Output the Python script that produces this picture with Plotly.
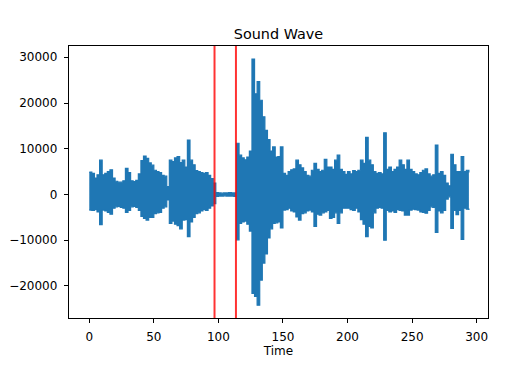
import plotly.graph_objects as go

# Sample times (s) and peak envelope of the waveform
time = list(range(0, 295, 2))
upper = [4900, 4600, 3600, 4300, 7500, 4300, 4600, 5000, 5400, 3600,
         2900, 2700, 2700, 3000, 5700, 4800, 3000, 2800, 3100, 4500,
         7400, 8400, 7900, 6900, 6400, 5300, 5000, 4800, 4200, 4000,
         1700, 7500, 7200, 8000, 8300, 7000, 7500, 6000, 11900, 7500,
         6500, 5200, 5000, 4800, 4600, 4800, 4200, 3500, 2500, 400,
         350, 300, 350, 350, 400, 350, 350, 11200, 8600, 8000,
         7600, 8200, 9500, 29600, 22000, 24700, 20600, 17000, 14000, 12000,
         9500, 10400, 8200, 8300, 10400, 4600, 4200, 5000, 5400, 5600,
         7500, 6500, 5800, 5000, 4200, 4000, 5300, 6800, 5500, 5000,
         5300, 7700, 6000, 6000, 5500, 7500, 8600, 5500, 5000, 4400,
         5000, 4500, 5200, 5000, 5300, 7500, 6800, 12500, 7500, 6500,
         5000, 4600, 4800, 4500, 13500, 5500, 6000, 5000, 5500, 6000,
         7500, 6500, 5500, 7500, 5500, 5000, 4500, 4300, 4800, 5300,
         5600, 4500, 4000, 4300, 10800, 4600, 5000, 4200, 2500, 1900,
         8800, 6500, 5000, 5000, 8300, 5000, 5300, 4800]
lower = [-3400, -3500, -3300, -3800, -6600, -3400, -3600, -3900, -4300, -3000,
         -2700, -2600, -2800, -3000, -3900, -3500, -2700, -2600, -2800, -3500,
         -4800, -5200, -5600, -5000, -5000, -4200, -4000, -3900, -3000, -2700,
         -1200, -6300, -5800, -6500, -6800, -7500, -5600, -5500, -9200, -6000,
         -5000, -4200, -4000, -3600, -3300, -3500, -3000, -2500, -2000, -400,
         -350, -350, -300, -350, -350, -350, -400, -9900, -6300, -6000,
         -5800, -6500, -8000, -21600, -22300, -24200, -18700, -15000, -13000, -9500,
         -7500, -6300, -6200, -6000, -7300, -3400, -3300, -3000, -3600, -3800,
         -4900, -5600, -4200, -4000, -3600, -3400, -3800, -7000, -4300, -4500,
         -4000, -3800, -3500, -5200, -5000, -4000, -6300, -4000, -3000, -3000,
         -3000, -3300, -3500, -3000, -3800, -5500, -6500, -9200, -7000, -7300,
         -4000, -3000, -2800, -3000, -10000, -3500, -3800, -3600, -3900, -3300,
         -3500, -3600, -4500, -4500, -3400, -3200, -3300, -3400, -3800, -3900,
         -4100, -3500, -2700, -2800, -8300, -3600, -4000, -3500, -1000, -500,
         -7400, -3500, -4400, -3500, -9800, -3000, -3200, -3400]
marker_times = [97.0, 113.6]

blue = "#1f77b4"
fig = go.Figure()
# negative peaks, then positive peaks filled down to them: the dense wave band
fig.add_trace(go.Scatter(x=time, y=lower, mode="lines", line_shape="hv",
                         line=dict(color=blue, width=1.2),
                         hoverinfo="skip", showlegend=False))
fig.add_trace(go.Scatter(x=time, y=upper, mode="lines", line_shape="hv",
                         line=dict(color=blue, width=1.2),
                         fill="tonexty", fillcolor=blue,
                         hoverinfo="skip", showlegend=False))
for mt in marker_times:
    fig.add_vline(x=mt, line=dict(color="rgba(255,0,0,0.8)", width=2), layer="above")

font = dict(family="DejaVu Sans", size=12, color="black")
# the page body has an 8px margin, so the figure is 8px smaller on each side
fig.update_layout(
    width=508, height=364,
    margin=dict(l=61, r=28, t=38, b=54),
    paper_bgcolor="white", plot_bgcolor="white",
    font=font,
    title=dict(text="Sound Wave", x=0.5, xref="paper", xanchor="center",
               y=1 - 25.5 / 364, yanchor="middle",
               font=dict(family="DejaVu Sans", size=14.4, color="black")),
    showlegend=False,
)
fig.update_xaxes(range=[-15.7, 308.8], tickmode="array",
                 tickvals=[0, 50, 100, 150, 200, 250, 300],
                 ticks="outside", ticklen=4.2, tickwidth=1, tickcolor="black",
                 ticklabelstandoff=3, automargin=False,
                 showline=True, linecolor="black", linewidth=1, mirror=True,
                 showgrid=False, zeroline=False,
                 title=dict(text="Time", font=font, standoff=0))
fig.update_yaxes(range=[-27000, 32465], tickmode="array",
                 tickvals=[-20000, -10000, 0, 10000, 20000, 30000],
                 tickformat="d", automargin=False,
                 ticks="outside", ticklen=4.2, tickwidth=1, tickcolor="black",
                 ticklabelstandoff=4,
                 showline=True, linecolor="black", linewidth=1, mirror=True,
                 showgrid=False, zeroline=False)

fig.write_html("out.html")
